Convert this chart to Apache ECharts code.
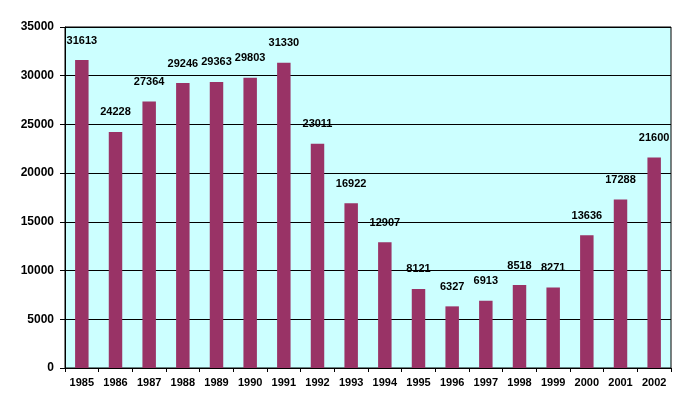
<!DOCTYPE html>
<html>
<head>
<meta charset="utf-8">
<script src="https://cdn.jsdelivr.net/npm/echarts@6/dist/echarts.min.js"></script>
<style>
  html, body { margin: 0; padding: 0; background: #fff; }
  #main { width: 686px; height: 411px; }
</style>
</head>
<body>
<div id="main"></div>
<script>
// years on the x axis
var years = ['1985', '1986', '1987', '1988', '1989', '1990', '1991', '1992', '1993',
  '1994', '1995', '1996', '1997', '1998', '1999', '2000', '2001', '2002']
// bar values
var values = [31613, 24228, 27364, 29246, 29363, 29803, 31330, 23011, 16922,
  12907, 8121, 6327, 6913, 8518, 8271, 13636, 17288, 21600]

var chart = echarts.init(document.getElementById('main'))

var option = {
  animation: false,
  grid: {
    left: 65,
    right: 15,
    top: 27,
    bottom: 43,
    show: true,
    backgroundColor: '#ccffff',
    borderColor: '#000',
    borderWidth: 1
  },
  xAxis: {
    type: 'category',
    data: years,
    axisLine: { lineStyle: { color: '#000', width: 1 } },
    axisTick: { show: true, length: 4, lineStyle: { color: '#000' } },
    axisLabel: {
      color: '#000',
      fontFamily: 'Liberation Sans, Arial',
      fontWeight: 'bold',
      fontSize: 11,
      margin: 9
    }
  },
  yAxis: {
    type: 'value',
    min: 0,
    max: 35000,
    interval: 5000,
    axisLine: { show: true, lineStyle: { color: '#000', width: 1 } },
    axisTick: { show: true, length: 5, lineStyle: { color: '#000' } },
    splitLine: { lineStyle: { color: '#000', width: 1 } },
    axisLabel: {
      color: '#000',
      fontFamily: 'Liberation Sans, Arial',
      fontWeight: 'bold',
      fontSize: 12,
      margin: 11,
      formatter: function (v) { return String(v) }
    }
  },
  series: [
    {
      type: 'bar',
      data: values,
      barWidth: '40%',
      itemStyle: { color: '#993366' },
      label: {
        show: true,
        position: 'top',
        distance: 14,
        color: '#000',
        fontFamily: 'Liberation Sans, Arial',
        fontWeight: 'bold',
        fontSize: 11
      }
    }
  ]
}

chart.setOption(option)
</script>
</body>
</html>
